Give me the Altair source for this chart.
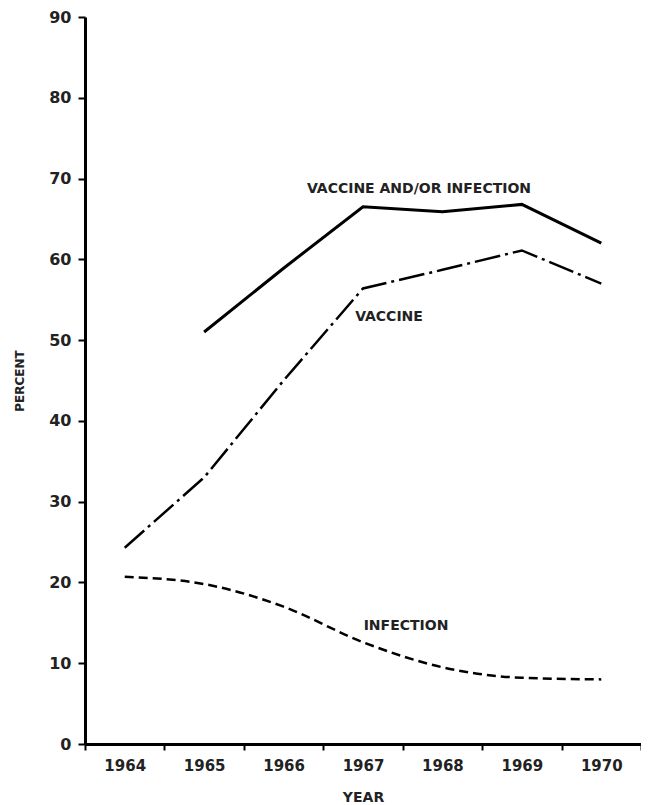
import altair as alt
import pandas as pd

years = ["1964", "1965", "1966", "1967", "1968", "1969", "1970"]
either_years = ["1965", "1966", "1967", "1968", "1969", "1970"]
either_vals = [51.0, 58.9, 66.5, 65.9, 66.8, 62.0]
vaccine_vals = [24.3, 33.0, 45.0, 56.4, 58.7, 61.1, 57.0]
infection_vals = [20.7, 19.8, 17.0, 12.6, 9.5, 8.2, 8.0]
y_ticks = [0, 10, 20, 30, 40, 50, 60, 70, 80, 90]

label_texts = ["VACCINE AND/OR INFECTION", "VACCINE", "INFECTION"]
label_years = ["1967", "1967", "1967"]
label_vals = [68.7, 52.8, 14.6]
label_dx = [56, 26, 43]

rows = []
for y, v in zip(either_years, either_vals):
    rows.append({"year": y, "value": v, "series": "either"})
for y, v in zip(years, vaccine_vals):
    rows.append({"year": y, "value": v, "series": "vaccine"})
for y, v in zip(years, infection_vals):
    rows.append({"year": y, "value": v, "series": "infection"})
df = pd.DataFrame(rows)

FONT = "DejaVu Sans"

x_enc = alt.X(
    "year:O",
    bandPosition=0.5,
    scale=alt.Scale(type="band", domain=years, paddingInner=0, paddingOuter=0),
    axis=alt.Axis(
        title="YEAR",
        labelAngle=0,
        tickBand="extent",
        tickSize=6,
        tickWidth=2,
        tickColor="black",
        domainColor="black",
        domainWidth=3,
        labelPadding=8,
        labelFontSize=15,
        labelFont=FONT,
        labelFontWeight="bold",
        labelColor="#222",
        titleFontSize=14,
        titleFont=FONT,
        titleFontWeight="bold",
        titleColor="#222",
        titlePadding=17,
        grid=False,
    ),
)
y_enc = alt.Y(
    "value:Q",
    scale=alt.Scale(domain=[0, 90], nice=False),
    axis=alt.Axis(
        title="PERCENT",
        values=y_ticks,
        tickSize=7,
        tickWidth=2,
        tickColor="black",
        domainColor="black",
        domainWidth=3,
        labelPadding=7,
        labelFontSize=16,
        labelFont=FONT,
        labelFontWeight="bold",
        labelColor="#222",
        titleFontSize=12,
        titleFont=FONT,
        titleFontWeight="bold",
        titleColor="#222",
        titlePadding=22,
        grid=False,
    ),
)

base = alt.Chart(df).encode(x=x_enc, y=y_enc)

either = base.transform_filter(alt.datum.series == "either").mark_line(
    color="black", strokeWidth=3
)
vaccine = base.transform_filter(alt.datum.series == "vaccine").mark_line(
    color="black", strokeWidth=2.5, strokeDash=[26, 5, 3, 5]
)
infection = base.transform_filter(alt.datum.series == "infection").mark_line(
    color="black", strokeWidth=2.5, strokeDash=[9, 5], interpolate="monotone"
)

labels_df = pd.DataFrame(
    {"text": label_texts, "year": label_years, "value": label_vals, "dx": label_dx}
)
label_layers = []
for t, yy, v, d in zip(label_texts, label_years, label_vals, label_dx):
    label_layers.append(
        alt.Chart(labels_df)
        .transform_filter(alt.datum.text == t)
        .mark_text(font=FONT, fontSize=14, fontWeight="bold", color="#222", dx=d)
        .encode(x=alt.X("year:O", bandPosition=0.5), y="value:Q", text="text:N")
    )

chart = (
    alt.layer(either, vaccine, infection, *label_layers)
    .properties(
        width=556,
        height=727,
        autosize=alt.AutoSizeParams(type="none"),
        padding={"left": 77, "top": 9, "right": 0, "bottom": 60},
    )
    .configure_view(stroke=None)
)

chart.save("out.html", embed_options={"renderer": "svg", "actions": False})
